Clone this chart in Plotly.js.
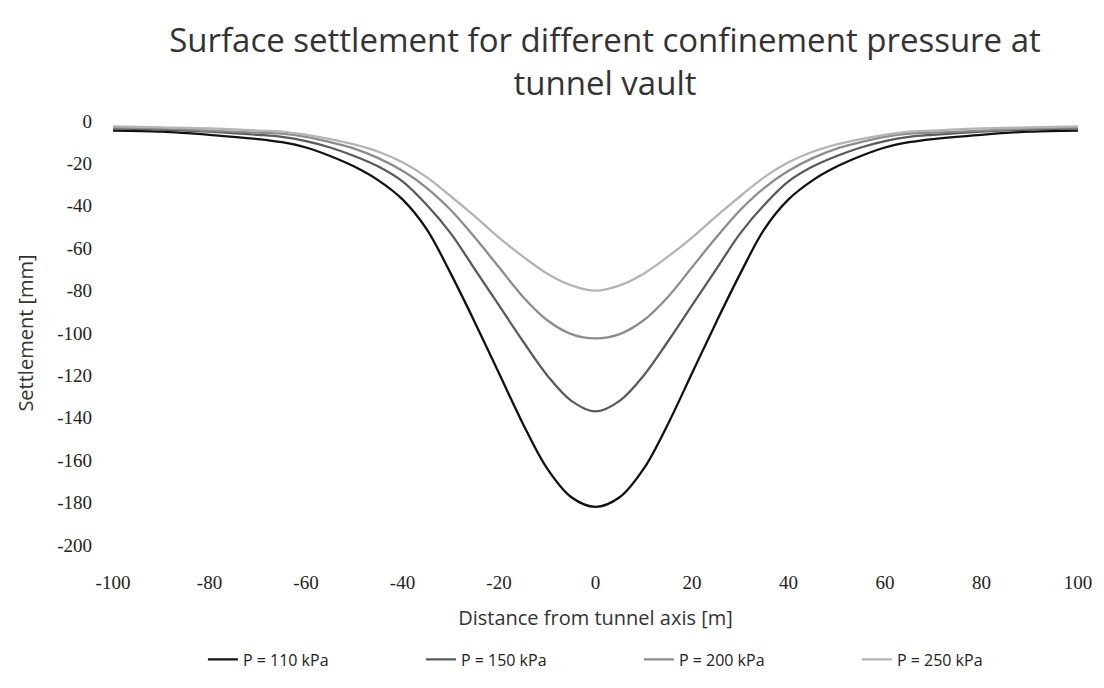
<!DOCTYPE html>
<html>
<head>
<meta charset="utf-8">
<script src="https://cdn.plot.ly/plotly-3.0.1.min.js"></script>
<style>
  html, body { margin: 0; padding: 0; background: #ffffff; }
  #chart { width: 1104px; height: 688px; }
</style>
</head>
<body>
<div id="chart"></div>
<script>
// Distance from tunnel axis [m]
const distance = [-100,-90,-80,-70,-65,-60,-55,-50,-45,-40,-35,-30,-25,-20,-15,-10,-5,0,
                  5,10,15,20,25,30,35,40,45,50,55,60,65,70,80,90,100];

// Settlement [mm] for each confinement pressure
const p110 = [-4.5,-5,-6.5,-8.5,-10,-12.5,-16.5,-21.5,-28,-37,-51,-72,-95,-119,-143,-164,-177.5,-182,
              -177.5,-164,-143,-119,-95,-72,-51,-37,-28,-21.5,-16.5,-12.5,-10,-8.5,-6.5,-5,-4.5];
const p150 = [-3.5,-4,-5,-6.5,-7.5,-9.5,-12.5,-16.5,-21.5,-28.5,-39.5,-53,-70,-87,-104,-120,-132,-137,
              -132,-120,-104,-87,-70,-53,-39.5,-28.5,-21.5,-16.5,-12.5,-9.5,-7.5,-6.5,-5,-4,-3.5];
const p200 = [-3,-3.5,-4.5,-5.5,-6,-7.5,-10,-13,-17.5,-23.5,-31.5,-42,-55,-69,-83,-94,-100.5,-102.5,
              -100.5,-94,-83,-69,-55,-42,-31.5,-23.5,-17.5,-13,-10,-7.5,-6,-5.5,-4.5,-3.5,-3];
const p250 = [-2.5,-3,-3.5,-4.5,-5,-6.5,-8.5,-11,-14.5,-19.5,-26.5,-35.5,-45,-55,-64,-72,-77.5,-80,
              -77.5,-72,-64,-55,-45,-35.5,-26.5,-19.5,-14.5,-11,-8.5,-6.5,-5,-4.5,-3.5,-3,-2.5];

const seriesNames = ['P = 110 kPa', 'P = 150 kPa', 'P = 200 kPa', 'P = 250 kPa'];
const seriesValues = [p110, p150, p200, p250];
const seriesColors = ['#111111', '#5a5a5a', '#8c8c8c', '#b4b4b4'];

const xTicks = [-100,-80,-60,-40,-20,0,20,40,60,80,100];
const yTicks = [0,-20,-40,-60,-80,-100,-120,-140,-160,-180,-200];

const traces = seriesValues.map((vals, i) => ({
  x: distance,
  y: vals,
  type: 'scatter',
  mode: 'lines',
  name: seriesNames[i],
  line: { color: seriesColors[i], width: 2.3, shape: 'spline', smoothing: 1 }
}));

const layout = {
  width: 1104,
  height: 688,
  paper_bgcolor: '#ffffff',
  plot_bgcolor: '#ffffff',
  margin: { l: 113, r: 26, t: 121, b: 137 },
  title: {
    text: 'Surface settlement for different confinement pressure at<br>tunnel vault',
    font: { family: 'Open Sans, sans-serif', size: 33, color: '#333333' },
    x: 0.548, xanchor: 'center',
    y: 0.925, yanchor: 'top'
  },
  xaxis: {
    range: [-100, 100],
    tickvals: xTicks,
    ticktext: xTicks.map(String),
    showgrid: false,
    zeroline: false,
    showline: false,
    ticks: '',
    automargin: false,
    ticklabelstandoff: 24,
    tickfont: { family: 'Liberation Serif, serif', size: 19, color: '#222222' },
    title: {
      text: 'Distance from tunnel axis [m]',
      font: { family: 'Open Sans, sans-serif', size: 20, color: '#333333' },
      standoff: 18
    }
  },
  yaxis: {
    range: [-200, 0],
    tickvals: yTicks,
    ticktext: yTicks.map(String),
    showgrid: false,
    zeroline: false,
    showline: false,
    ticks: '',
    automargin: false,
    ticklabelstandoff: 20,
    tickfont: { family: 'Liberation Serif, serif', size: 19, color: '#222222' },
    title: {
      text: 'Settlement [mm]',
      font: { family: 'Open Sans, sans-serif', size: 20, color: '#333333' },
      standoff: 18
    }
  },
  showlegend: true,
  legend: {
    orientation: 'h',
    x: 0.545, xanchor: 'center',
    y: -0.27, yanchor: 'middle',
    font: { family: 'Open Sans, sans-serif', size: 16, color: '#222222' },
    entrywidth: 173,
    entrywidthmode: 'pixels',
    bgcolor: 'rgba(0,0,0,0)'
  }
};

Plotly.newPlot('chart', traces, layout, { displayModeBar: false, staticPlot: true });
</script>
</body>
</html>
